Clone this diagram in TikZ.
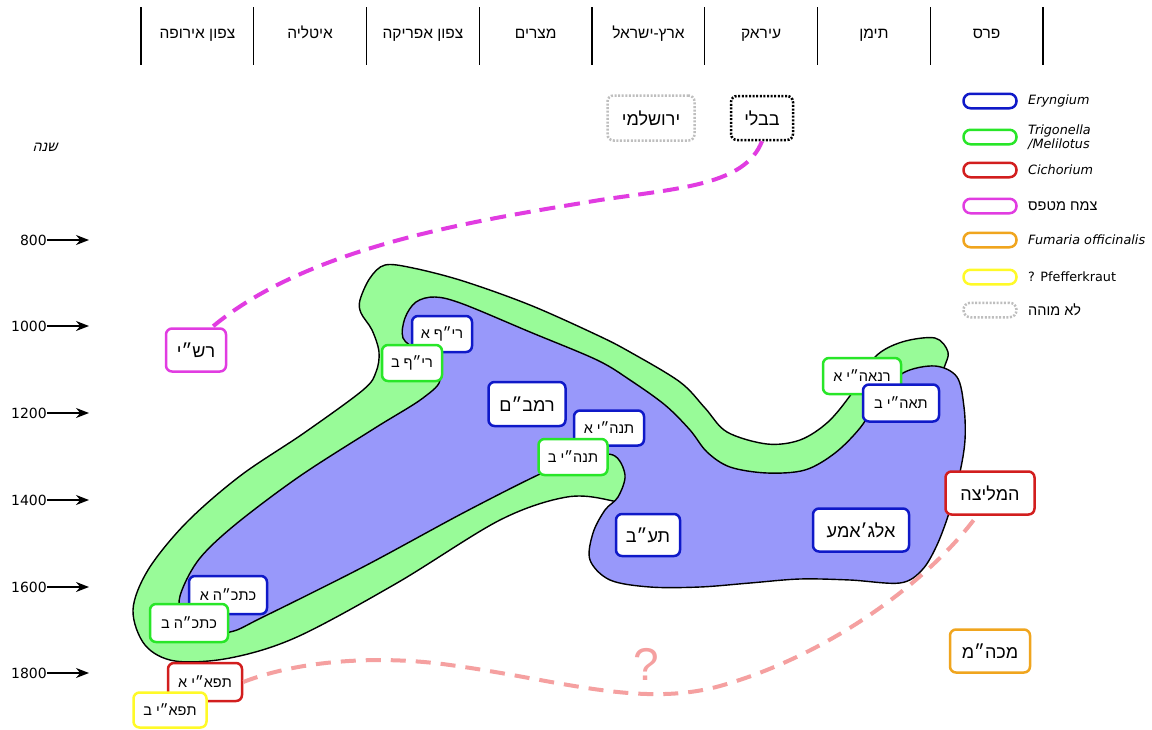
\documentclass[tikz,border=0pt]{standalone}
\usepackage{fontspec}
\setmainfont{Liberation Sans}
\newfontfamily\heb[Script=Hebrew]{Liberation Sans}
\newfontfamily\hebsl[Script=Hebrew,FakeSlant=0.25]{Liberation Sans}
\newfontfamily\latfont{DejaVu Sans}
\TeXXeTstate=1
\usetikzlibrary{arrows.meta}

% Hebrew text helpers (right to left)
\newcommand\hbig[1]{{\heb\fontsize{18}{20}\selectfont\beginR #1\endR}}
\newcommand\hsmall[1]{{\heb\fontsize{14.5}{16}\selectfont\beginR #1\endR}}
\newcommand\hhead[1]{{\heb\fontsize{15.5}{17}\selectfont\beginR #1\endR}}

\definecolor{cBlue}{RGB}{15,25,200}
\definecolor{cGreen}{RGB}{40,230,40}
\definecolor{cRed}{RGB}{210,30,30}
\definecolor{cMag}{RGB}{225,60,225}
\definecolor{cOrange}{RGB}{240,165,30}
\definecolor{cYellow}{RGB}{255,250,40}
\definecolor{cGray}{RGB}{190,190,190}
\definecolor{cPink}{RGB}{245,160,160}
\definecolor{fillGreen}{RGB}{152,251,152}
\definecolor{fillBlue}{RGB}{152,152,250}

\tikzset{
  labbox/.style={draw, fill=white, rounded corners=6pt, line width=2.5pt, inner sep=0pt},
  bluebox/.style={labbox, draw=cBlue},
  greenbox/.style={labbox, draw=cGreen},
  redbox/.style={labbox, draw=cRed},
  magbox/.style={labbox, draw=cMag},
  orangebox/.style={labbox, draw=cOrange},
  yellowbox/.style={labbox, draw=cYellow},
  dotbox/.style={labbox, dash pattern=on 2pt off 1.6pt},
  pill/.style={draw, fill=white, rounded corners=7pt, line width=2.5pt,
    minimum width=53pt, minimum height=14.5pt, inner sep=0pt},
  legtext/.style={anchor=west, inner sep=0pt, font=\latfont\fontsize{12.8}{14.5}\selectfont},
  headtext/.style={anchor=base, inner sep=0pt},
  yearlab/.style={anchor=east, inner sep=0pt, font=\latfont\fontsize{14}{16}\selectfont},
  yeararrow/.style={line width=1.6pt, -{Stealth[length=13pt,width=10pt]}},
  headline/.style={line width=1.4pt},
  blob/.style={draw=black, line width=1.4pt},
  climbdash/.style={draw=cMag, line width=4pt, dash pattern=on 16pt off 9pt},
  pinkdash/.style={draw=cPink, line width=4pt, dash pattern=on 15pt off 10pt},
}

\begin{document}
\begin{tikzpicture}[x=1pt,y=-1pt]
\fill[white] (0,0) rectangle (1152,729);
\useasboundingbox (0,0) rectangle (1152,729);

% ---- header: regions ----
\foreach \k in {0,...,8}
  \draw[headline] ({141+112.75*\k},7) -- ({141+112.75*\k},65);
\node[headtext] (hEU) at (197.4,38) {\hhead{צפון אירופה}};
\node[headtext] (hIT) at (310.1,38) {\hhead{איטליה}};
\node[headtext] (hNA) at (422.9,38) {\hhead{צפון אפריקה}};
\node[headtext] (hEG) at (535.6,38) {\hhead{מצרים}};
\node[headtext] (hIL) at (648.4,38) {\hhead{ארץ-ישראל}};
\node[headtext] (hIQ) at (761.1,38) {\hhead{עיראק}};
\node[headtext] (hYE) at (873.9,38) {\hhead{תימן}};
\node[headtext] (hPE) at (986.6,38) {\hhead{פרס}};

% ---- time axis ----
\node (yearhead) at (45,147) {{\hebsl\fontsize{14}{16}\selectfont\beginR שנה\endR}};
\foreach \yr/\yy in {800/240,1000/326,1200/413,1400/500,1600/587,1800/673}{
  \node[yearlab] (y\yr) at (47,\yy) {\yr};
  \coordinate (t\yr) at (89,\yy);
  \draw[yeararrow] (y\yr.east) -- (t\yr);
}

% ---- outer region (Trigonella / Melilotus) ----
\filldraw[blob, fill=fillGreen] plot[smooth cycle, tension=0.55] coordinates {
  (360,300) (370,278) (385,265) (413,268) (463,281) (530,305) (597,335)
  (630,352) (680,382) (705,408) (727,432) (767,444) (800,440) (828,422)
  (852,393) (875,357) (902,342) (935,338) (948,352) (944,368) (935,395)
  (880,470) (760,520) (650,515) (613,501) (567,497) (500,520) (397,583)
  (297,637) (230,658) (175,661) (145,645) (133,610) (148,570) (186,523)
  (240,476) (304,433) (363,390) (376,372) (379,352) (372,330) (361,313)};

% ---- inner region (Eryngium) ----
\filldraw[blob, fill=fillBlue] plot[smooth cycle, tension=0.55] coordinates {
  (405,318) (416,302) (435,297) (463,304) (530,332) (597,360) (630,380)
  (665,405) (690,430) (707,452) (730,467) (767,473) (805,470) (835,453)
  (860,428) (880,398) (903,373) (935,366) (957,377) (964,407) (965,440)
  (960,472) (950,510) (937,545) (922,570) (900,583) (850,580) (800,579)
  (750,583) (700,587) (650,587) (610,580) (590,560) (593,533) (605,510)
  (618,497) (625,475) (613,455) (580,458) (540,474) (463,513) (363,567)
  (263,617) (230,632) (195,632) (180,610) (182,590) (200,558) (236,524)
  (300,476) (375,428) (423,398) (440,378) (418,352) (403,338)};

% ---- sources ----
\node[dotbox, draw=cGray, minimum width=87pt, minimum height=45pt] (yerush) at (651,118) {\hbig{ירושלמי}};
\node[dotbox, draw=black, minimum width=62pt, minimum height=44pt] (bavli) at (762,118) {\hbig{בבלי}};
\node[magbox, minimum width=60pt, minimum height=43pt] (rashi) at (196,350) {\hbig{רש״י}};

\node[bluebox, minimum width=60pt, minimum height=36pt] (rifA) at (442,334) {\hsmall{רי״ף א}};
\node[greenbox, minimum width=60pt, minimum height=36pt] (rifB) at (412,363) {\hsmall{רי״ף ב}};
\node[bluebox, minimum width=77pt, minimum height=44pt] (rambam) at (527,404) {\hbig{רמב״ם}};
\node[bluebox, minimum width=70pt, minimum height=35pt] (tnhA) at (609,428) {\hsmall{תנה״י א}};
\node[greenbox, minimum width=69pt, minimum height=36pt] (tnhB) at (573,457) {\hsmall{תנה״י ב}};
\node[greenbox, minimum width=78pt, minimum height=36pt] (rnaA) at (862,376) {\hsmall{רנאה״י א}};
\node[bluebox, minimum width=76pt, minimum height=37pt] (taaB) at (901,403) {\hsmall{תאה״י ב}};
\node[redbox, minimum width=89pt, minimum height=43pt] (melitza) at (990,493) {\hbig{המליצה}};
\node[bluebox, minimum width=96pt, minimum height=43pt] (algama) at (861,530) {\hbig{אלג׳אמע}};
\node[bluebox, minimum width=64pt, minimum height=42pt] (taav) at (648,535) {\hbig{תע״ב}};
\node[bluebox, minimum width=78pt, minimum height=38pt] (ktkA) at (228,595) {\hsmall{כתכ״ה א}};
\node[greenbox, minimum width=78pt, minimum height=38pt] (ktkB) at (189,623) {\hsmall{כתכ״ה ב}};
\node[redbox, minimum width=74pt, minimum height=38pt] (tifA) at (205,682) {\hsmall{תפא״י א}};
\node[yellowbox, minimum width=73pt, minimum height=35pt] (tifB) at (170,710) {\hsmall{תפא״י ב}};
\node[orangebox, minimum width=80pt, minimum height=43pt] (mkhm) at (990,651) {\hbig{מכה״מ}};

% ---- dashed links ----
\draw[climbdash] (bavli.south) .. controls (745,185) and (680,188) .. (600,200)
  .. controls (480,220) and (310,245) .. (rashi.55);
\draw[pinkdash] (tifA.east) .. controls (300,660) and (380,655) .. (450,665)
  .. controls (560,680) and (640,708) .. (720,686)
  .. controls (830,655) and (930,580) .. (melitza.240);
\node[text=cPink, font=\fontsize{46}{50}\selectfont] (qmark) at (646,664) {?};

% ---- legend ----
\node[pill, draw=cBlue] (kBlue) at (990,101) {};
\node[pill, draw=cGreen] (kGreen) at (990,137) {};
\node[pill, draw=cRed] (kRed) at (990,170) {};
\node[pill, draw=cMag] (kMag) at (990,206) {};
\node[pill, draw=cOrange] (kOrange) at (990,240) {};
\node[pill, draw=cYellow] (kYellow) at (990,277) {};
\node[pill, draw=cGray, dash pattern=on 2pt off 1.6pt] (kGray) at (990,310) {};
\node[legtext] (lBlue) at (1028,101) {\itshape Eryngium};
\node[legtext, align=left] (lGreen) at (1028,137) {\itshape Trigonella\\\itshape /Melilotus};
\node[legtext] (lRed) at (1028,170) {\itshape Cichorium};
\node[legtext] (lMag) at (1028,206) {\hsmall{צמח מטפס}};
\node[legtext] (lOrange) at (1028,240) {\itshape Fumaria officinalis};
\node[legtext] (lYellow) at (1028,277) {? Pfefferkraut};
\node[legtext] (lGray) at (1028,310) {\hsmall{לא מוהה}};
\end{tikzpicture}
\end{document}
